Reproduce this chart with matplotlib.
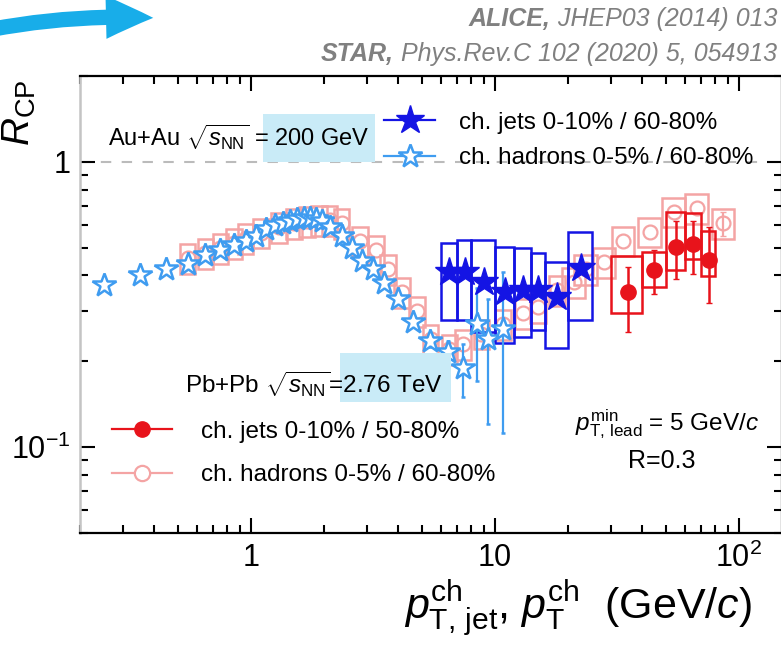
import numpy as np
import matplotlib
matplotlib.use("Agg")
import matplotlib.pyplot as plt
import matplotlib.ticker as ticker
from matplotlib.patches import Rectangle, FancyArrowPatch
from matplotlib.lines import Line2D

plt.rcParams["font.family"] = ["Liberation Sans", "DejaVu Sans"]
plt.rcParams["mathtext.fontset"] = "custom"
plt.rcParams["mathtext.rm"] = "Liberation Sans"
plt.rcParams["mathtext.it"] = "Liberation Sans:italic"
plt.rcParams["mathtext.bf"] = "Liberation Sans:bold"

# STAR charged hadrons 0-5% / 60-80%, Au+Au 200 GeV
star_had_pt = [0.25, 0.35, 0.45, 0.55, 0.65, 0.75, 0.85, 0.95, 1.05, 1.15, 1.25,
               1.35, 1.45, 1.55, 1.65, 1.75, 1.85, 1.95, 2.1, 2.35, 2.6, 2.85,
               3.15, 3.5, 4.0, 4.6, 5.4, 6.4, 7.4, 8.4, 9.4, 10.8]
star_had_r = [0.37, 0.40, 0.42, 0.44, 0.47, 0.49, 0.51, 0.53, 0.55, 0.58, 0.60,
              0.61, 0.62, 0.63, 0.635, 0.635, 0.63, 0.62, 0.59, 0.55, 0.50, 0.45,
              0.42, 0.375, 0.33, 0.275, 0.235, 0.215, 0.19, 0.27, 0.24, 0.26]
star_had_elo = [0.005] * 26 + [0.01, 0.02, 0.04, 0.10, 0.12, 0.148]
star_had_ehi = [0.005] * 26 + [0.01, 0.02, 0.04, 0.09, 0.09, 0.15]

# STAR charged jets 0-10% / 60-80%, R=0.3
star_jet_edges = [6, 7, 8, 10, 12, 14, 16, 20, 25]
star_jet_r = [0.41, 0.41, 0.38, 0.35, 0.355, 0.355, 0.336, 0.425]
star_jet_syslo = [0.28, 0.279, 0.253, 0.232, 0.243, 0.257, 0.222, 0.279]
star_jet_syshi = [0.52, 0.533, 0.533, 0.503, 0.50, 0.48, 0.446, 0.568]

# ALICE charged hadrons 0-5% / 60-80%, Pb+Pb 2.76 TeV
alice_had_pt = [0.55, 0.65, 0.75, 0.85, 0.95, 1.1, 1.3, 1.5, 1.7, 1.9, 2.1, 2.35,
                2.8, 3.25, 3.65, 4.15, 4.8, 5.45, 6.5, 7.4, 8.8, 10.8, 13, 15,
                18, 21, 23.5, 28, 33.5, 43, 54, 67, 86]
alice_had_r = [0.46, 0.48, 0.50, 0.52, 0.54, 0.565, 0.59, 0.61, 0.62, 0.625, 0.625,
               0.61, 0.53, 0.49, 0.42, 0.35, 0.30, 0.24, 0.22, 0.23, 0.25, 0.27,
               0.295, 0.31, 0.355, 0.38, 0.42, 0.445, 0.53, 0.57, 0.67, 0.69, 0.61]
alice_had_stat = [0.0] * 32 + [0.06]
alice_had_sys = 0.12  # relative

# ALICE charged jets 0-10% / 50-80%, R=0.3
alice_jet_edges = [30, 40, 50, 60, 70, 80]
alice_jet_r = [0.35, 0.418, 0.503, 0.515, 0.453]
alice_jet_statlo = [0.253, 0.344, 0.389, 0.405, 0.32]
alice_jet_stathi = [0.428, 0.49, 0.62, 0.62, 0.59]
alice_jet_syslo = [0.295, 0.365, 0.418, 0.457, 0.398]
alice_jet_syshi = [0.468, 0.483, 0.667, 0.662, 0.573]

PINK = "#f4a4a4"
RED = "#e8131b"
HAD_BLUE = "#3f9cf0"
JET_BLUE = "#1414e4"
HIGHLIGHT = "#c9ebf7"
CITE = "#808080"
ARROW = "#18ade9"

W, H = 781, 649


def fx(px):
    return px / W


def fy(py):
    return 1 - py / H


fig = plt.figure(figsize=(W / 100, H / 100), dpi=100)
ax = fig.add_axes([fx(80.4), fy(532.8), (782 - 80.4) / W, (532.8 - 76.2) / H])
ax.set_xscale("log")
ax.set_yscale("log")
ax.set_xlim(0.2, 150)
ax.set_ylim(0.05, 2)

ax.axhline(1, color="#bbbbbb", lw=1.5, ls=(0, (5, 5)), zorder=1)

# ALICE hadrons: sys boxes + open circles
a_pt = np.array(alice_had_pt)
a_r = np.array(alice_had_r)
a_stat = np.array(alice_had_stat)
hw = np.where(a_pt < 20, 0.032, 0.046)
for x, y, w in zip(a_pt, a_r, hw):
    lo, hi = x * 10 ** -w, x * 10 ** w
    ax.add_patch(Rectangle((lo, y * (1 - alice_had_sys)), hi - lo, 2 * y * alice_had_sys,
                           fill=False, ec=PINK, lw=1.8, zorder=2))
ax.plot(a_pt, a_r, "o", ms=10, mfc="none", mec=PINK, mew=1.6, zorder=3)
big = a_stat > 0
ax.errorbar(a_pt[big], a_r[big], yerr=a_stat[big], fmt="none", ecolor=PINK,
            elinewidth=1.6, capsize=2, zorder=3)

# ALICE jets: sys boxes + filled circles
ae = np.array(alice_jet_edges)
aj_pt = (ae[:-1] + ae[1:]) / 2
for i in range(len(alice_jet_r)):
    ax.add_patch(Rectangle((ae[i], alice_jet_syslo[i]), ae[i + 1] - ae[i],
                           alice_jet_syshi[i] - alice_jet_syslo[i],
                           fill=False, ec=RED, lw=1.8, zorder=4))
aj_r = np.array(alice_jet_r)
ax.errorbar(aj_pt, aj_r, yerr=[aj_r - np.array(alice_jet_statlo), np.array(alice_jet_stathi) - aj_r],
            fmt="o", ms=11, color=RED, elinewidth=1.8, capsize=2, zorder=5)

# STAR jets: sys boxes
se = np.array(star_jet_edges)
sj_pt = (se[:-1] + se[1:]) / 2
for i in range(len(star_jet_r)):
    ax.add_patch(Rectangle((se[i], star_jet_syslo[i]), se[i + 1] - se[i],
                           star_jet_syshi[i] - star_jet_syslo[i],
                           fill=False, ec=JET_BLUE, lw=1.8, zorder=6))

# STAR hadrons: open stars
ax.errorbar(star_had_pt, star_had_r, yerr=[star_had_elo, star_had_ehi], fmt="*", ms=17.5,
            mfc="white", mec=HAD_BLUE, mew=1.8, ecolor=HAD_BLUE, elinewidth=1.6,
            capsize=1.5, zorder=7)

# STAR jets: filled stars
ax.plot(sj_pt, star_jet_r, "*", ms=21, color=JET_BLUE, zorder=8)

# axes styling
ax.xaxis.set_major_locator(ticker.FixedLocator([1, 10, 100]))
ax.xaxis.set_major_formatter(ticker.FixedFormatter(["1", "10", r"$10^{2}$"]))
ax.xaxis.set_minor_locator(ticker.LogLocator(subs=np.arange(2, 10)))
ax.xaxis.set_minor_formatter(ticker.NullFormatter())
ax.yaxis.set_major_locator(ticker.FixedLocator([0.1, 1]))
ax.yaxis.set_major_formatter(ticker.FixedFormatter([r"$10^{-1}$", "1"]))
ax.yaxis.set_minor_locator(ticker.LogLocator(subs=np.arange(2, 10)))
ax.yaxis.set_minor_formatter(ticker.NullFormatter())
ax.tick_params(which="both", direction="in", top=True, right=True, width=1.5, labelsize=22)
ax.tick_params(which="major", length=11, pad=7)
ax.tick_params(which="minor", length=5.8)
for s in ["top", "bottom", "right"]:
    ax.spines[s].set_linewidth(1.6)
ax.spines["left"].set_color("#c4c4c4")
ax.spines["left"].set_linewidth(1.8)

# highlight boxes behind energies
for x0, x1, y0, y1 in [(263, 375, 114, 162), (340, 451, 353, 402)]:
    fig.add_artist(Rectangle((fx(x0), fy(y1)), fx(x1) - fx(x0), fy(y0) - fy(y1),
                             transform=fig.transFigure, color=HIGHLIGHT, lw=0, zorder=1))

fig.text(fx(108), fy(146), r"Au+Au $\sqrt{s_{\mathrm{NN}}}$ = 200 GeV", fontsize=17,
         va="baseline", zorder=3)
fig.text(fx(185), fy(393), r"Pb+Pb $\sqrt{s_{\mathrm{NN}}}$=2.76 TeV", fontsize=17.5,
         va="baseline", zorder=3)
fig.text(fx(575), fy(430), r"$p_{\mathrm{T,\,lead}}^{\mathrm{min}}$ = 5 GeV/$c$", fontsize=17.5,
         va="baseline")
fig.text(fx(628), fy(468), "R=0.3", fontsize=18, va="baseline")

# legends
h_sj = Line2D([], [], color=JET_BLUE, marker="*", ms=21, lw=1.6)
h_sh = Line2D([], [], color=HAD_BLUE, marker="*", ms=17.5, mfc="white", mew=1.8, lw=1.6)
leg1 = ax.legend([h_sj, h_sh], ["ch. jets 0-10% / 60-80%", "ch. hadrons 0-5% / 60-80%"],
                 loc="center left", bbox_to_anchor=(fx(384), fy(140.5)),
                 bbox_transform=fig.transFigure, frameon=False, fontsize=17.5,
                 handlelength=2.1, handletextpad=0.98, labelspacing=0.55,
                 borderpad=0, borderaxespad=0)
ax.add_artist(leg1)
h_aj = Line2D([], [], color=RED, marker="o", ms=11, lw=1.6)
h_ah = Line2D([], [], color=PINK, marker="o", ms=11, mfc="white", mew=1.6, lw=1.6)
leg2 = ax.legend([h_aj, h_ah], ["ch. jets 0-10% / 50-80%", "ch. hadrons 0-5% / 60-80%"],
                 loc="center left", bbox_to_anchor=(fx(112), fy(453.5)),
                 bbox_transform=fig.transFigure, frameon=False, fontsize=17.5,
                 handlelength=2.45, handletextpad=1.2, labelspacing=0.88,
                 borderpad=0, borderaxespad=0)

# axis titles
fig.text(fx(752), fy(618),
         r"$p_{\mathrm{T,\,jet}}^{\mathrm{ch}}$, $p_{\mathrm{T}}^{\mathrm{ch}}$  (GeV/$c$)",
         fontsize=31, ha="right", va="baseline")
fig.text(fx(1), fy(80), r"$R_{\mathrm{CP}}$", fontsize=28, rotation=90,
         ha="left", va="top")

# citations
fig.canvas.draw()
r = fig.canvas.get_renderer()
t1 = fig.text(fx(777), fy(26), " JHEP03 (2014) 013", fontsize=18, style="italic",
              color=CITE, ha="right", va="baseline")
t2 = fig.text(fx(777), fy(61), " Phys.Rev.C 102 (2020) 5, 054913", fontsize=18,
              style="italic", color=CITE, ha="right", va="baseline")
for t, name, py in [(t1, "ALICE,", 26), (t2, "STAR,", 61)]:
    bb = t.get_window_extent(renderer=r)
    fig.text(bb.x0 / fig.dpi / fig.get_figwidth(), fy(py), name, fontsize=18,
             style="italic", weight="bold", color=CITE, ha="right", va="baseline")

# arrow in the top-left corner
fig.add_artist(FancyArrowPatch((fx(-12), fy(30)), (fx(156), fy(18)),
                               transform=fig.transFigure,
                               arrowstyle="simple,head_length=34,head_width=31,tail_width=11",
                               connectionstyle="arc3,rad=-0.06", color=ARROW, lw=0))

fig.savefig("out.png", dpi=100)
